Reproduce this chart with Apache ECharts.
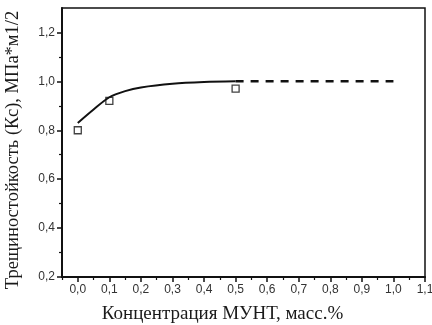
<!DOCTYPE html>
<html>
<head>
<meta charset="utf-8">
<script src="https://cdn.jsdelivr.net/npm/echarts@6/dist/echarts.min.js"></script>
<style>
    html, body { margin: 0; padding: 0; background: #fff; }
    #chart { width: 432px; height: 325px; }
</style>
</head>
<body>
<div id="chart"></div>
<script>
// measured points (squares)
const expX = [0, 0.1, 0.5];
const expY = [0.80, 0.92, 0.97];
// fitted curve
const fitX = [0, 0.05, 0.1, 0.15, 0.2, 0.3, 0.4, 0.5];
const fitY = [0.83, 0.885, 0.935, 0.96, 0.975, 0.99, 0.997, 1.0];
// dashed extrapolation
const extX = [0.5, 1.0];
const extY = [1.0, 1.0];
// ticks
const xTicks = [0, 0.1, 0.2, 0.3, 0.4, 0.5, 0.6, 0.7, 0.8, 0.9, 1.0, 1.1];
const xMinor = [-0.05, 0.05, 0.15, 0.25, 0.35, 0.45, 0.55, 0.65, 0.75, 0.85, 0.95, 1.05];
const yTicks = [0.2, 0.4, 0.6, 0.8, 1.0, 1.2];
const yMinor = [0.3, 0.5, 0.7, 0.9, 1.1];

const pairs = (xs, ys) => xs.map((x, i) => [x, ys[i]]);
const fmt = v => v.toFixed(1).replace('.', ',');
const black = '#111';
const labelStyle = { color: '#333', fontFamily: 'Liberation Sans', fontSize: 12 };

const chart = echarts.init(document.getElementById('chart'));
chart.setOption({
    animation: false,
    grid: {
        left: 62, right: 7, top: 8, bottom: 48,
        outerBoundsMode: 'none',
        show: true, borderColor: black, borderWidth: 1.5
    },
    xAxis: [
        {
            type: 'value', min: -0.05, max: 1.1,
            name: 'Концентрация МУНТ, масс.%',
            nameLocation: 'middle', nameGap: 28,
            nameTextStyle: { fontFamily: 'Liberation Serif', fontSize: 19, color: '#1a1a1a', padding: [0, 42, 0, 0] },
            axisLine: { onZero: false, lineStyle: { color: black, width: 2 } },
            axisTick: { customValues: xTicks, length: 5, lineStyle: { color: black, width: 1.5 } },
            axisLabel: Object.assign({ customValues: xTicks, formatter: fmt, margin: 7 }, labelStyle),
            splitLine: { show: false }
        },
        {
            type: 'value', min: -0.05, max: 1.1, position: 'bottom',
            axisLine: { show: false, onZero: false },
            axisTick: { customValues: xMinor, length: 3, lineStyle: { color: black, width: 1.2 } },
            axisLabel: { show: false },
            splitLine: { show: false }
        }
    ],
    yAxis: [
        {
            type: 'value', min: 0.2, max: 1.3,
            name: 'Трещиностойкость (Кс), МПа*м1/2',
            nameLocation: 'middle', nameGap: 39,
            nameTextStyle: { fontFamily: 'Liberation Serif', fontSize: 18.5, color: '#1a1a1a', padding: [0, 15, 0, 0] },
            axisLine: { show: true, onZero: false, lineStyle: { color: black, width: 2 } },
            axisTick: { show: true, customValues: yTicks, length: 5, lineStyle: { color: black, width: 1.5 } },
            axisLabel: Object.assign({ customValues: yTicks, formatter: fmt, margin: 7 }, labelStyle),
            splitLine: { show: false }
        },
        {
            type: 'value', min: 0.2, max: 1.3, position: 'left',
            axisLine: { show: false, onZero: false },
            axisTick: { show: true, customValues: yMinor, length: 3, lineStyle: { color: black, width: 1.2 } },
            axisLabel: { show: false },
            splitLine: { show: false }
        }
    ],
    series: [
        {
            type: 'line', data: pairs(fitX, fitY), smooth: 0.3,
            showSymbol: false, lineStyle: { color: black, width: 2 }
        },
        {
            type: 'line', data: pairs(extX, extY),
            showSymbol: false, lineStyle: { color: black, width: 2.5, type: [8, 7] }
        },
        {
            type: 'scatter', data: pairs(expX, expY),
            symbol: 'rect', symbolSize: 7,
            itemStyle: { color: '#fff', borderColor: black, borderWidth: 1.3 }
        }
    ]
});
</script>
</body>
</html>
